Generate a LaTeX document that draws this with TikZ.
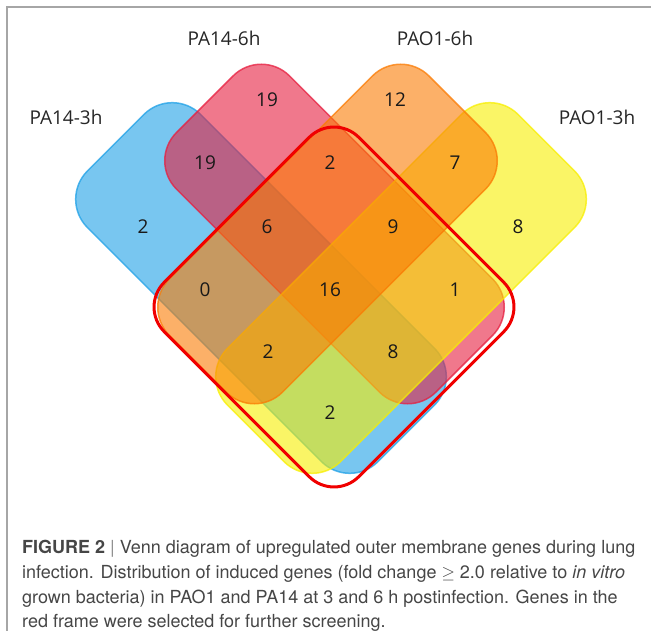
\documentclass[tikz,border=0pt]{standalone}
\usepackage{fontspec}
\setmainfont{TeX Gyre Heros}
\newfontfamily\vennfont{Open Sans}
\usepackage{xcolor}
\definecolor{vennblue}{RGB}{30,160,230}
\definecolor{vennpink}{RGB}{230,30,63}
\definecolor{vennorange}{RGB}{250,123,3}
\definecolor{vennyellow}{RGB}{247,238,0}
\definecolor{framered}{RGB}{240,0,0}
\definecolor{capgray}{RGB}{70,70,70}
\usepackage{tikz}
\usetikzlibrary{positioning}

\begin{document}
\begin{tikzpicture}[x=1pt, y=1pt,
  setshape/.style={line width=1.5pt, fill opacity=0.6, draw opacity=0.75, rounded corners=40pt},
  setlbl/.style={font=\vennfont\fontsize{19}{22}\selectfont, text=black!85, inner sep=0pt},
  cnt/.style={font=\vennfont\fontsize{19}{22}\selectfont, text=black!90, inner sep=0pt},
  capline/.style={anchor=base west, inner sep=0pt, font=\fontsize{18}{22}\selectfont, text=capgray}]

  \useasboundingbox (0,0) rectangle (651,-631);
  % panel frame
  \draw[black!35, line width=1.2pt] (7,-631) -- (7,-7) -- (651,-7);

  % Four sets
  \draw[setshape, draw=vennblue, fill=vennblue, shift={(261,-288)}, rotate=-45]
    (-205.5,-80) rectangle (205.5,80);
  \draw[setshape, draw=vennpink, fill=vennpink, shift={(334.5,-234)}, rotate=-45]
    (-183.5,-80) rectangle (183.5,80);
  \draw[setshape, draw=vennyellow, fill=vennyellow, shift={(401,-288)}, rotate=45]
    (-205.5,-80) rectangle (205.5,80);
  \draw[setshape, draw=vennorange, fill=vennorange, shift={(327.5,-234)}, rotate=45]
    (-183.5,-80) rectangle (183.5,80);

  % Selection frame
  \draw[framered, line width=3pt, rounded corners=35pt, shift={(334,-307)}, rotate=45]
    (-137.5,-137.5) rectangle (137.5,137.5);

  % Set labels
  \node[setlbl] (pa14a) at (66,-117) {PA14-3h};
  \node[setlbl] (pa14b) at (224,-38) {PA14-6h};
  \node[setlbl] (pao1b) at (435,-38) {PAO1-6h};
  \node[setlbl] (pao1a) at (597,-117) {PAO1-3h};

  % Counts
  \node[cnt] (c01) at (267,-100) {19};
  \node[cnt] (c02) at (395,-100) {12};
  \node[cnt] (c03) at (205,-163) {19};
  \node[cnt] (c04) at (330,-163) {2};
  \node[cnt] (c05) at (455,-163) {7};
  \node[cnt] (c06) at (143,-227) {2};
  \node[cnt] (c07) at (267,-227) {6};
  \node[cnt] (c08) at (393,-227) {9};
  \node[cnt] (c09) at (518,-227) {8};
  \node[cnt] (c10) at (205,-290) {0};
  \node[cnt] (c11) at (330,-290) {16};
  \node[cnt] (c12) at (455,-290) {1};
  \node[cnt] (c13) at (268,-352) {2};
  \node[cnt] (c14) at (393,-352) {8};
  \node[cnt] (c15) at (330,-413) {2};

  % Caption
  \node[capline] (cap1) at (22,-553) {\textbf{FIGURE 2} \textcolor{black!45}{|} Venn diagram of upregulated outer membrane genes during lung};
  \node[capline] (cap2) at (22,-578) {infection. Distribution of induced genes (fold change $\geq$ 2.0 relative to \textit{in vitro}};
  \node[capline] (cap3) at (22,-603) {grown bacteria) in PAO1 and PA14 at 3 and 6 h postinfection. Genes in the};
  \node[capline] (cap4) at (22,-627) {red frame were selected for further screening.};
\end{tikzpicture}
\end{document}
